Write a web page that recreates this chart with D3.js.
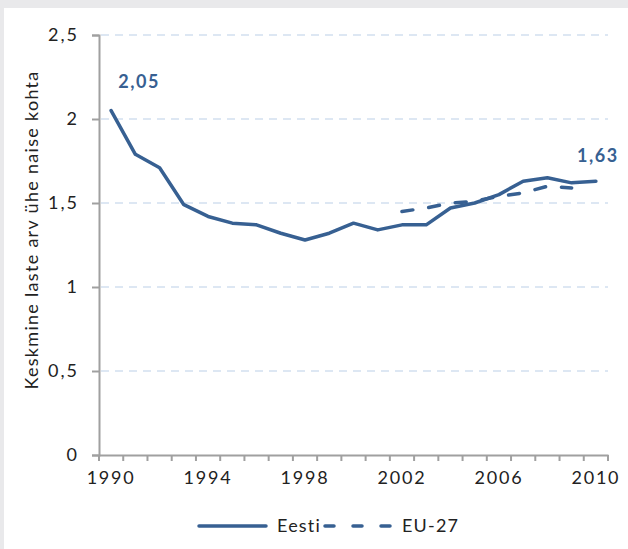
<!DOCTYPE html>
<html><head><meta charset="utf-8">
<script src="https://cdn.jsdelivr.net/npm/d3@7"></script>
<style>
html,body{margin:0;padding:0;background:#e9e9eb;}
svg{display:block;}
text{font-family:Lato,"Open Sans",sans-serif;}
</style></head>
<body>
<svg id="c" width="628" height="549"></svg>
<script>
const years = d3.range(1990, 2011);
const eesti = [2.05,1.79,1.71,1.49,1.42,1.38,1.37,1.32,1.28,1.32,1.38,1.34,1.37,1.37,1.47,1.50,1.55,1.63,1.65,1.62,1.63];
const euYears = [2002,2003,2004,2005,2006,2007,2008,2009];
const eu27 = [1.45,1.47,1.50,1.51,1.54,1.56,1.60,1.59];
const yTicks = [0,0.5,1,1.5,2,2.5];
const xLabelYears = [1990,1994,1998,2002,2006,2010];
const seriesNames = ["Eesti","EU-27"];
const yTitle = "Keskmine laste arv ühe naise kohta";

const color = "#376092";
const svg = d3.select("#c");
svg.append("rect").attr("x",4).attr("y",8).attr("width",624).attr("height",541).attr("fill","#fff");

const x = d3.scaleBand().domain(years).range([99,608]);
const y = d3.scaleLinear().domain([0,2.5]).range([455,35]);
const cx = d => x(d) + x.bandwidth()/2;
const fmt = v => String(v).replace(".", ",");

// gridlines
svg.append("g").selectAll("line").data(yTicks.filter(d=>d>0)).join("line")
  .attr("x1",101).attr("x2",608).attr("y1",d=>y(d)).attr("y2",d=>y(d))
  .attr("stroke","#dde7f3").attr("stroke-width",2).attr("stroke-dasharray","8,6");

// y axis
const ya = svg.append("g").attr("transform","translate(99,0)")
  .call(d3.axisLeft(y).tickValues(yTicks).tickFormat(fmt).tickSize(7).tickPadding(13));
ya.select(".domain").attr("stroke","#a0a0a0").attr("stroke-width",2);
ya.selectAll(".tick line").attr("stroke","#a0a0a0").attr("stroke-width",2);
ya.selectAll("text").attr("font-size",18).attr("fill","#222").attr("letter-spacing","2px");

// x axis
const xa = svg.append("g").attr("transform","translate(0,455)")
  .call(d3.axisBottom(x).tickValues(years).tickSize(0).tickFormat(d=>xLabelYears.includes(d)?d:""));
xa.select(".domain").attr("stroke","#a0a0a0").attr("stroke-width",2);
xa.selectAll("text").attr("font-size",18).attr("fill","#222").attr("dy","1.45em").attr("letter-spacing","1.8px");
// band boundary ticks
const bounds = years.map(d=>x(d)).concat([x(2010)+x.bandwidth()]);
svg.append("g").selectAll("line").data(bounds).join("line")
  .attr("x1",d=>d).attr("x2",d=>d).attr("y1",455).attr("y2",461)
  .attr("stroke","#a0a0a0").attr("stroke-width",2);

// y title
svg.append("text").attr("transform","translate(38,230) rotate(-90)")
  .attr("text-anchor","middle").attr("font-size",18).attr("fill","#222").attr("letter-spacing","1.3px")
  .text(yTitle);

// lines
const line = d3.line().x(d=>cx(d[0])).y(d=>y(d[1]));
svg.append("path").datum(years.map((d,i)=>[d,eesti[i]]))
  .attr("d",line).attr("fill","none").attr("stroke",color).attr("stroke-width",3.5).attr("stroke-linejoin","round").attr("stroke-linecap","round");
svg.append("path").datum(euYears.map((d,i)=>[d,eu27[i]]))
  .attr("d",line).attr("fill","none").attr("stroke",color).attr("stroke-width",3.5).attr("stroke-dasharray","11,16").attr("stroke-linecap","round");

// value labels
svg.append("text").attr("x",cx(1990)+28).attr("y",y(eesti[0])-23).attr("text-anchor","middle")
  .attr("font-size",18).attr("font-weight","bold").attr("fill",color).attr("letter-spacing","1.5px").text(fmt(eesti[0]));
svg.append("text").attr("x",cx(2010)+2).attr("y",y(eesti[20])-19).attr("text-anchor","middle")
  .attr("font-size",18).attr("font-weight","bold").attr("fill",color).attr("letter-spacing","1.5px").text(fmt(eesti[20]));

// legend
const lg = svg.append("g");
lg.append("line").attr("x1",199).attr("x2",266).attr("y1",526).attr("y2",526).attr("stroke",color).attr("stroke-width",3.5).attr("stroke-linecap","round");
lg.append("text").attr("x",277).attr("y",532).attr("font-size",18).attr("fill","#222").attr("letter-spacing","1.2px").text(seriesNames[0]);
lg.append("line").attr("x1",325).attr("x2",392).attr("y1",526).attr("y2",526).attr("stroke",color).attr("stroke-width",3.5).attr("stroke-linecap","round").attr("stroke-dasharray","9,19");
lg.append("text").attr("x",402).attr("y",532).attr("font-size",18).attr("fill","#222").attr("letter-spacing","1.2px").text(seriesNames[1]);
</script>
</body></html>
